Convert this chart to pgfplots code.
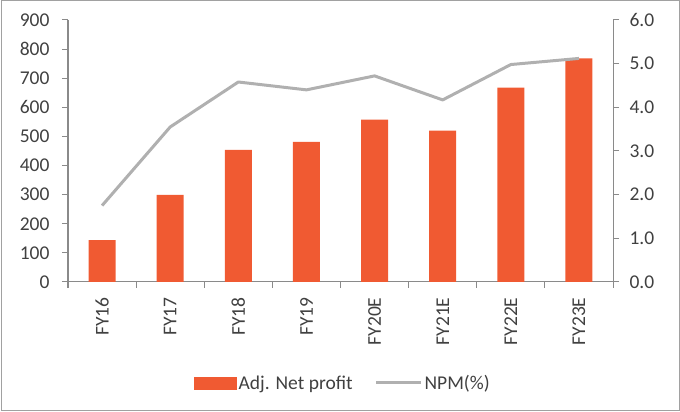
\documentclass[border=0pt]{standalone}
\usepackage{fontspec}
\setmainfont{Carlito}
\usepackage{pgfplots}
\pgfplotsset{compat=1.18}
\definecolor{barcol}{HTML}{F05A32}
\definecolor{linecol}{HTML}{B0B0B0}
\definecolor{axcol}{HTML}{8A8A8A}
\definecolor{txtcol}{HTML}{404040}
\begin{document}
\begin{tikzpicture}
\path[use as bounding box] (0,0) rectangle (680pt,412pt);
\draw[color=axcol!80, line width=1pt] (1pt,1pt) rectangle (679pt,411pt);
\pgfplotsset{
  every axis/.append style={
    scale only axis, width=545pt, height=262pt,
    at={(68pt,130pt)}, anchor=south west,
    xmin=-0.5, xmax=7.5,
    tick align=outside,
    axis line style={axcol, line width=1pt},
    tick style={axcol, line width=1pt},
    major tick length=6pt,
    tick label style={font=\fontsize{19.5}{21}\selectfont, text=txtcol},
    /pgf/number format/assume math mode=true,
  }
}
\begin{axis}[
  axis x line*=bottom, axis y line*=left,
  ymin=0, ymax=900, ytick={0,100,...,900},
  yticklabel style={xshift=-9pt},
  xtick={-0.5,0.5,...,7.5}, xticklabels={},
  extra x ticks={0,1,...,7},
  extra x tick labels={FY16,FY17,FY18,FY19,FY20E,FY21E,FY22E,FY23E},
  extra x tick style={major tick length=0pt, xticklabel style={yshift=-12pt, rotate=90, anchor=east}},
]
\addplot[ybar, bar width=27pt, fill=barcol, draw=none] coordinates {
(0,144) (1,299) (2,454) (3,481) (4,558) (5,520) (6,668) (7,768)};
\end{axis}
\begin{axis}[
  axis y line*=right, axis x line=none,
  ymin=0, ymax=6, ytick={0,1,...,6},
  yticklabel style={xshift=7pt, /pgf/number format/.cd, fixed, fixed zerofill, precision=1},
  legend columns=2,
  legend style={at={(0.5046,-0.3855)}, anchor=center, draw=none, fill=none,
    font=\fontsize{19.5}{21}\selectfont, text=txtcol,
    /tikz/every even column/.append style={column sep=20pt}},
]
\addlegendimage{legend image code/.code={\fill[barcol] (0pt,-6pt) rectangle (42pt,6pt);}}
\addlegendentry{Adj. Net profit}
\addplot[linecol, line width=3pt, line join=round,
  legend image code/.code={\draw[linecol,line width=3pt] (0pt,0pt) -- (45pt,0pt);}] coordinates {
(0,1.75) (1,3.55) (2,4.58) (3,4.40) (4,4.72) (5,4.17) (6,4.98) (7,5.12)};
\addlegendentry{NPM(\%)}
\end{axis}
\end{tikzpicture}
\end{document}
